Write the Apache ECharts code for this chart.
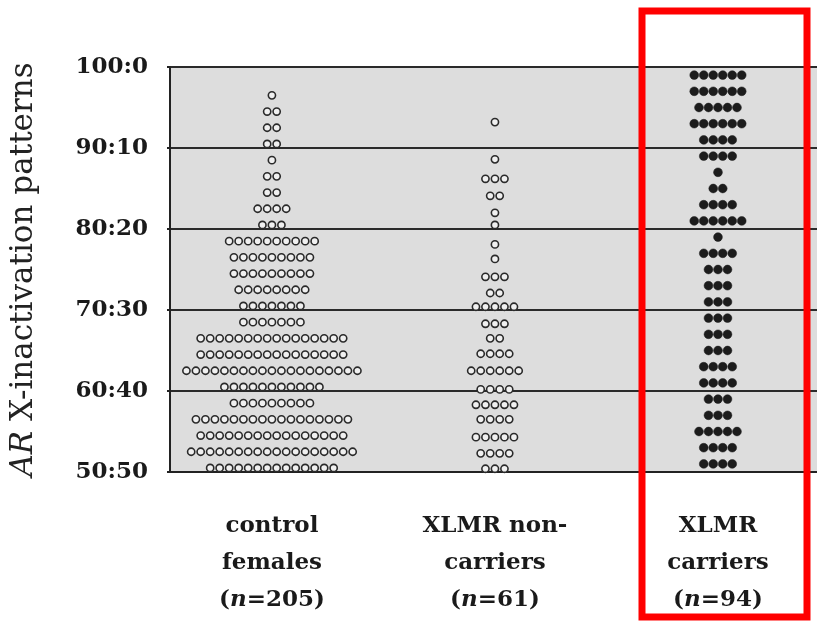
<!DOCTYPE html>
<html>
<head>
<meta charset="utf-8">
<script src="https://cdn.jsdelivr.net/npm/echarts@6/dist/echarts.min.js"></script>
<style>
  html, body { margin: 0; padding: 0; background: #fff; }
  #chart { width: 817px; height: 627px; }
</style>
</head>
<body>
<div id="chart"></div>
<script>
// Group labels along the bottom axis
const categoryLabels = ['control\nfemales', 'XLMR non-\ncarriers', 'XLMR\ncarriers'];
const groupN = [205, 61, 94];

// y tick values (AR allele share); labels read "v:(100-v)"
const yTicks = [50, 60, 70, 80, 90, 100];

// Control females: row level and number of women in that row (bottom to top)
const controlLevels = [50.5, 52.5, 54.5, 56.5, 58.5, 60.5, 62.5, 64.5, 66.5, 68.5, 70.5, 72.5,
                       74.5, 76.5, 78.5, 80.5, 82.5, 84.5, 86.5, 88.5, 90.5, 92.5, 94.5, 96.5];
const controlCounts = [14, 18, 16, 17, 9, 11, 19, 16, 16, 7, 7, 8,
                       9, 9, 10, 3, 4, 2, 2, 1, 2, 2, 2, 1];

// XLMR non-carriers
const nonCarrierLevels = [50.4, 52.3, 54.3, 56.5, 58.3, 60.2, 62.5, 64.6, 66.5, 68.3, 70.4,
                          72.1, 74.1, 76.3, 78.1, 80.5, 82.0, 84.1, 86.2, 88.6, 93.2];
const nonCarrierCounts = [3, 4, 5, 4, 5, 4, 6, 4, 2, 3, 5,
                          2, 3, 1, 1, 1, 1, 2, 3, 1, 1];

// XLMR carriers
const carrierLevels = [51, 53, 55, 57, 59, 61, 63, 65, 67, 69, 71, 73, 75,
                       77, 79, 81, 83, 85, 87, 89, 91, 93, 95, 97, 99];
const carrierCounts = [4, 4, 5, 3, 3, 4, 4, 3, 3, 3, 3, 3, 3,
                       4, 1, 6, 4, 2, 1, 4, 4, 6, 5, 6, 6];

const SERIF = 'DejaVu Serif';
const DOT_GAP = 9.5;

function rows(groupIndex, levels, counts) {
  return levels.map((lv, i) => [groupIndex, lv, counts[i]]);
}

// Each row is drawn as a centred run of dots at its level
function dotRows(radius, style) {
  return function (params, api) {
    const g = api.value(0), v = api.value(1), n = api.value(2);
    const c = api.coord([g, v]);
    const children = [];
    for (let i = 0; i < n; i++) {
      children.push({
        type: 'circle',
        shape: { cx: c[0] + (i - (n - 1) / 2) * DOT_GAP, cy: c[1], r: radius },
        style: style
      });
    }
    return { type: 'group', children: children };
  };
}

const chart = echarts.init(document.getElementById('chart'), null, { renderer: 'canvas' });

const option = {
  animation: false,
  backgroundColor: '#ffffff',
  grid: {
    left: 170, right: 0, top: 67, bottom: 155,
    show: true, backgroundColor: '#dddddd', borderWidth: 0
  },
  xAxis: {
    type: 'value',
    min: -0.457,
    max: 2.444,
    axisLine: { show: true, onZero: false, lineStyle: { color: '#222', width: 2 } },
    axisTick: { show: false },
    splitLine: { show: false },
    axisLabel: {
      customValues: [0, 1, 2],
      margin: 36,
      fontFamily: SERIF,
      fontWeight: 'bold',
      fontSize: 23,
      lineHeight: 37,
      color: '#1a1a1a',
      align: 'center',
      formatter: function (v) {
        const i = Math.round(v);
        return categoryLabels[i] + '\n({it|n}=' + groupN[i] + ')';
      },
      rich: {
        it: { fontFamily: SERIF, fontWeight: 'bold', fontStyle: 'italic', fontSize: 23, lineHeight: 37, color: '#1a1a1a' }
      }
    }
  },
  yAxis: {
    type: 'value',
    min: yTicks[0],
    max: yTicks[yTicks.length - 1],
    interval: 10,
    name: '{it|AR} X-inactivation patterns',
    nameLocation: 'middle',
    nameRotate: 90,
    nameGap: 131,
    nameTextStyle: {
      fontFamily: SERIF, fontSize: 31, color: '#222',
      rich: { it: { fontFamily: SERIF, fontSize: 31, fontStyle: 'italic', color: '#222' } }
    },
    axisLine: { show: true, onZero: false, lineStyle: { color: '#222', width: 2 } },
    axisTick: { show: true, length: 3, lineStyle: { color: '#222', width: 2 } },
    splitLine: { show: true, lineStyle: { color: '#2a2a2a', width: 2 } },
    axisLabel: {
      margin: 22,
      fontFamily: SERIF,
      fontWeight: 'bold',
      fontSize: 23,
      color: '#1a1a1a',
      padding: [8, 0, 0, 0],
      formatter: function (v) { return v + ':' + (100 - v); }
    }
  },
  series: [
    {
      name: 'control females',
      type: 'custom',
      renderItem: dotRows(3.6, { fill: '#f0f0f0', stroke: '#2a2a2a', lineWidth: 1.6 }),
      encode: { x: 0, y: 1 },
      data: rows(0, controlLevels, controlCounts)
    },
    {
      name: 'XLMR non-carriers',
      type: 'custom',
      renderItem: dotRows(3.6, { fill: '#f0f0f0', stroke: '#2a2a2a', lineWidth: 1.6 }),
      encode: { x: 0, y: 1 },
      data: rows(1, nonCarrierLevels, nonCarrierCounts)
    },
    {
      name: 'XLMR carriers',
      type: 'custom',
      renderItem: dotRows(4.4, { fill: '#1c1c1c', stroke: '#1c1c1c', lineWidth: 0.5 }),
      encode: { x: 0, y: 1 },
      data: rows(2, carrierLevels, carrierCounts)
    }
  ],
  graphic: [
    {
      type: 'rect',
      z: 100,
      shape: { x: 642, y: 11, width: 165, height: 606 },
      style: { fill: 'none', stroke: '#ff0000', lineWidth: 7 }
    }
  ]
};

chart.setOption(option);
</script>
</body>
</html>
